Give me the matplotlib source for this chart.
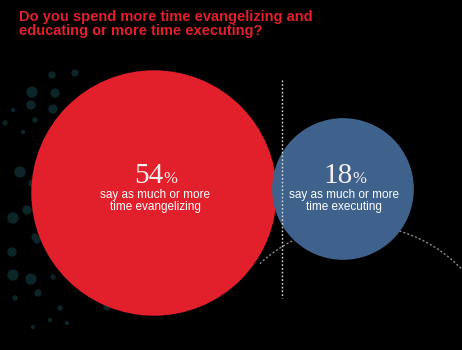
import numpy as np
import matplotlib
matplotlib.use("Agg")
import matplotlib.pyplot as plt
from matplotlib.patches import Circle, Arc

# survey answers (percent of respondents)
labels = ["say as much or more\ntime evangelizing", "say as much or more\ntime executing"]
values = [54, 18]
colors = ["#e1202b", "#3e628c"]
title_lines = ["Do you spend more time evangelizing and", "educating or more time executing?"]

# faint background speckles (decoration only)
dots_x = [52, 75, 32, 55, 31, 53, 13, 35, 5, 23, 20, 32, 27, 13, 35, 12, 37, 13, 31, 38, 15, 53, 60, 50, 67, 33, 107]
dots_y = [75, 73, 92, 93, 105, 109, 110, 120, 123, 132, 172, 183, 210, 218, 237, 252, 240, 275, 279, 293, 298, 277, 308, 320, 323, 327, 307]
dots_r = [3, 3, 5, 4, 4, 4, 1.5, 2, 2, 1.5, 5, 3, 4, 5, 3, 4, 3, 5, 5, 3, 2, 2, 2, 1.5, 1.5, 1.5, 3]

W, H = 462, 350
fig = plt.figure(figsize=(W / 100, H / 100), dpi=100, facecolor="black")
ax = fig.add_axes([0, 0, 1, 1])
ax.set_xlim(0, W)
ax.set_ylim(H, 0)
ax.set_aspect("equal")
ax.axis("off")
ax.set_facecolor("black")

for x, y, r in zip(dots_x, dots_y, dots_r):
    ax.add_patch(Circle((x, y), r, color="#0c2529", zorder=1))

# dotted arc in the background, starting at the red bubble's edge
ax.add_patch(Arc((358, 369), 288, 288, theta1=227, theta2=360, color="#8a8a8a",
                 lw=1, ls=(0, (1.5, 1.5)), zorder=2))

# bubble area proportional to value
scale = 16.7
centers = [(154, 193), (343, 189)]
for i, (v, c) in enumerate(zip(values, colors)):
    r = scale * np.sqrt(v)
    ax.add_patch(Circle(centers[i], r, color=c, zorder=3 + i, lw=0))

# dotted vertical divider
ax.plot([282, 282], [80, 298], color="#dddddd", lw=1, ls=(0, (1.2, 1.5)), zorder=6)

for k, line in enumerate(title_lines):
    ax.text(19, 21 + 14 * k, line, color="#e1202b", fontsize=10.5, fontweight="bold",
            family="Liberation Sans", va="baseline", ha="left", zorder=7)

renderer = fig.canvas.get_renderer()
for i, (v, lab) in enumerate(zip(values, labels)):
    cx = centers[i][0]
    num = ax.text(0, 183, str(v), color="#f6eeee", fontsize=21, family="Liberation Serif",
                  ha="left", va="baseline", zorder=7)
    pct = ax.text(0, 183, "%", color="#f6eeee", fontsize=12, family="Liberation Serif",
                  ha="left", va="baseline", zorder=7)
    w1 = num.get_window_extent(renderer).width
    w2 = pct.get_window_extent(renderer).width
    x0 = cx + 2 - (w1 + w2) / 2
    num.set_x(x0)
    pct.set_x(x0 + w1)
    ax.text(cx + 1, 189, lab, color="white", fontsize=8.5, family="Liberation Sans",
            ha="center", va="top", linespacing=1.05, zorder=7)

fig.savefig("out.png", dpi=100, facecolor="black")
